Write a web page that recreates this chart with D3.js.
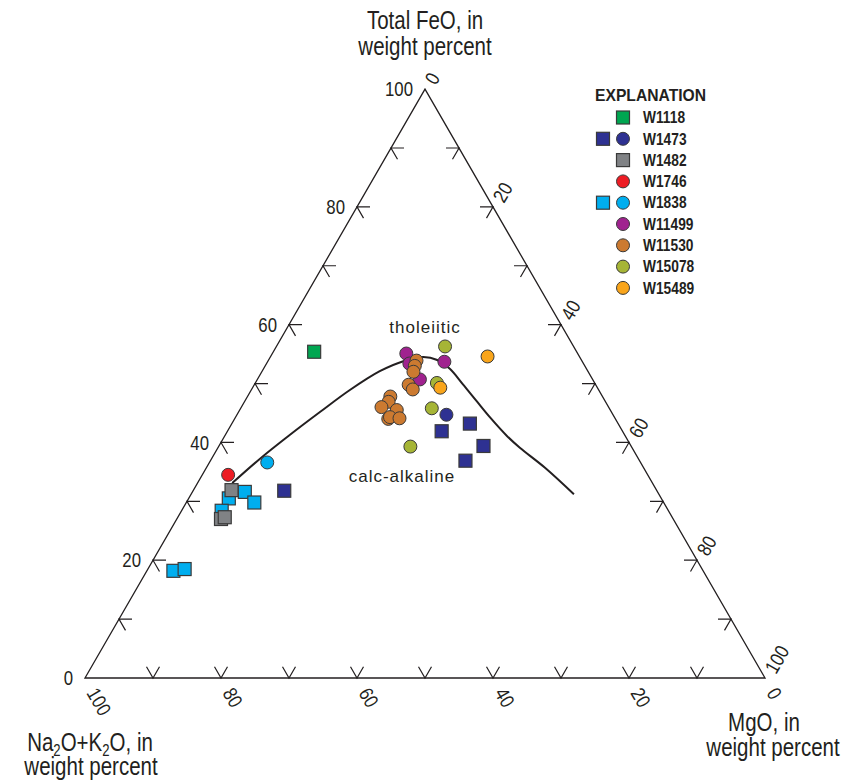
<!DOCTYPE html>
<html>
<head>
<meta charset="utf-8">
<script src="https://cdn.jsdelivr.net/npm/d3@7"></script>
<style>
  html, body { margin: 0; padding: 0; background: #fff; }
  svg { display: block; }
  text { font-family: "Liberation Sans", Arial, Helvetica, sans-serif; fill: #231f20; }
</style>
</head>
<body>
<svg id="chart" width="843" height="782"></svg>
<script>
// ---- Data: AFM ternary, values as [FeO, MgO] in weight percent (Na2O+K2O = 100 - FeO - MgO)
const sampleNames = ["W1118", "W1473", "W1482", "W1746", "W1838", "W11499", "W11530", "W15078", "W15489"];
const sampleColors = ["#00a651", "#2e3192", "#808285", "#ed1c24", "#00aeef", "#a0228f", "#cc7a30", "#a6b536", "#f9a51b"];
const legendSquares = [true, true, true, false, true, false, false, false, false];
const legendCircles = [false, true, false, true, true, true, true, true, true];

const w1118Squares = [[55.4, 6.0]];
const w1473Squares = [[31.8, 13.4], [41.9, 31.5], [43.2, 35.0], [39.4, 38.9], [36.9, 37.5]];
const w1473Circles = [[44.7, 30.8]];
const w1482Squares = [[31.9, 5.6], [27.0, 6.5], [27.3, 6.9]];
const w1746Circles = [[34.5, 3.8]];
const w1838Squares = [[30.5, 5.9], [31.6, 7.7], [29.8, 10.0], [28.4, 5.9], [18.2, 3.9], [18.5, 5.4]];
const w1838Circles = [[36.6, 8.5]];
const w11499Circles = [[55.1, 19.7], [53.4, 21.0], [50.7, 23.9], [53.7, 26.0]];
const w11530Circles = [[53.9, 21.8], [53.0, 22.0], [52.0, 22.3], [49.8, 22.7], [49.0, 23.7], [47.8, 21.0],
                       [46.9, 21.2], [46.0, 20.6], [45.5, 23.1], [44.0, 22.6], [44.3, 22.7], [44.1, 24.2]];
const w15078Circles = [[56.3, 24.8], [50.1, 26.7], [45.8, 28.1], [39.3, 28.2]];
const w15489Circles = [[54.6, 31.9], [49.3, 27.6]];

// Tholeiitic / calc-alkaline dividing line
const boundaryLine = [[33.1, 5.1], [37.2, 7.1], [41.3, 9.5], [45.2, 12.0], [48.9, 14.5], [52.1, 17.3],
                      [53.8, 19.9], [54.5, 22.5], [54.0, 24.8], [52.5, 27.4], [49.9, 30.6], [47.0, 34.1],
                      [44.2, 37.5], [41.1, 41.5], [39.1, 44.4], [35.7, 49.8], [31.2, 56.3]];

const feoTicks = [0, 20, 40, 60, 80, 100];
const mgoTicks = [0, 20, 40, 60, 80, 100];
const alkTicks = [100, 80, 60, 40, 20, 0];
const minorSteps = d3.range(10, 100, 10);

// ---- Geometry
const svg = d3.select("#chart");
const side = 680;
const xs = d3.scaleLinear().domain([0, 100]).range([85, 85 + side]);
const ys = d3.scaleLinear().domain([0, 100]).range([678, 678 - side * Math.sqrt(3) / 2]);
const proj = (feo, mgo) => [xs(mgo + feo / 2), ys(feo)];

const ink = "#231f20";
const S3 = Math.sqrt(3) / 2;
const L = 13;

// Condensed text: regular sans face squeezed horizontally
function ctext(parent, x, y, str, size, opts = {}) {
  const rot = opts.rotate || 0, sx = opts.sx || 0.82;
  return parent.append("text")
    .attr("transform", `translate(${x},${y}) rotate(${rot}) scale(${sx},1)`)
    .attr("font-size", size)
    .attr("font-weight", opts.weight || "normal")
    .attr("text-anchor", opts.anchor || "start")
    .attr("dy", opts.dy || null)
    .text(str);
}

// Triangle frame
const corners = [proj(0, 0), proj(100, 0), proj(0, 100)];
svg.append("path")
  .attr("d", "M" + corners.map(p => p.join(",")).join("L") + "Z")
  .attr("fill", "none").attr("stroke", ink).attr("stroke-width", 1.3);

// Arrow-shaped ticks along each side
const tickPath = (p, a, b) => `M${p[0] + a[0]},${p[1] + a[1]}L${p[0]},${p[1]}L${p[0] + b[0]},${p[1] + b[1]}`;
const ticks = svg.append("g").attr("fill", "none").attr("stroke", ink).attr("stroke-width", 1.2);
minorSteps.forEach(v => {
  ticks.append("path").attr("d", tickPath(proj(v, 0), [L, 0], [L * 0.5, L * S3]));
  ticks.append("path").attr("d", tickPath(proj(100 - v, v), [-L, 0], [-L * 0.5, L * S3]));
  ticks.append("path").attr("d", tickPath(proj(0, 100 - v), [-L * 0.5, -L * S3], [L * 0.5, -L * S3]));
});

// Tick labels
const tl = svg.append("g");
feoTicks.forEach(v => {
  const p = proj(v, 0);
  ctext(tl, p[0] - 12, p[1], v, 20, { anchor: "end", dy: "0.36em", sx: 0.84 });
});
mgoTicks.forEach(v => {
  const p = proj(100 - v, v);
  ctext(tl, p[0] + 11, p[1] - 3, v, 20, { rotate: -60, sx: 0.84 });
});
alkTicks.forEach(v => {
  const p = proj(0, 100 - v);
  ctext(tl, p[0] + 1, p[1] + 15, v, 20, { rotate: 60, sx: 0.84 });
});

// Axis titles
const titles = svg.append("g");
ctext(titles, 425, 29, "Total FeO, in", 25, { anchor: "middle" });
ctext(titles, 425, 55, "weight percent", 25, { anchor: "middle" });
const na = ctext(titles, 90, 751, "", 25, { anchor: "middle" });
na.append("tspan").text("Na");
na.append("tspan").attr("font-size", 16).attr("dy", 5).text("2");
na.append("tspan").attr("dy", -5).text("O+K");
na.append("tspan").attr("font-size", 16).attr("dy", 5).text("2");
na.append("tspan").attr("dy", -5).text("O, in");
ctext(titles, 91, 775, "weight percent", 25, { anchor: "middle" });
ctext(titles, 764, 731, "MgO, in", 25, { anchor: "middle" });
ctext(titles, 773, 756, "weight percent", 25, { anchor: "middle" });

// Field labels
const fl = svg.append("g").attr("font-size", 17).attr("letter-spacing", 1).attr("text-anchor", "middle");
fl.append("text").attr("x", 425).attr("y", 333).text("tholeiitic");
fl.append("text").attr("x", 402).attr("y", 482).text("calc-alkaline");

// Boundary curve
const line = d3.line().x(d => proj(d[0], d[1])[0]).y(d => proj(d[0], d[1])[1]).curve(d3.curveCatmullRom.alpha(0.5));
svg.append("path").datum(boundaryLine).attr("d", line)
  .attr("fill", "none").attr("stroke", ink).attr("stroke-width", 2);

// Symbols
const R = 6.5, SQ = 13;
function drawSquares(data, color) {
  svg.append("g").selectAll("rect").data(data).join("rect")
    .attr("x", d => proj(d[0], d[1])[0] - SQ / 2).attr("y", d => proj(d[0], d[1])[1] - SQ / 2)
    .attr("width", SQ).attr("height", SQ)
    .attr("fill", color).attr("stroke", "#3a3a3a").attr("stroke-width", 1.2);
}
function drawCircles(data, color) {
  svg.append("g").selectAll("circle").data(data).join("circle")
    .attr("cx", d => proj(d[0], d[1])[0]).attr("cy", d => proj(d[0], d[1])[1]).attr("r", R)
    .attr("fill", color).attr("stroke", "#3a3a3a").attr("stroke-width", 1);
}
drawSquares(w1838Squares, sampleColors[4]);
drawSquares(w1482Squares, sampleColors[2]);
drawCircles(w1746Circles, sampleColors[3]);
drawCircles(w1838Circles, sampleColors[4]);
drawSquares(w1118Squares, sampleColors[0]);
drawSquares(w1473Squares, sampleColors[1]);
drawCircles(w1473Circles, sampleColors[1]);
drawCircles(w11499Circles, sampleColors[5]);
drawCircles(w11530Circles, sampleColors[6]);
drawCircles(w15078Circles, sampleColors[7]);
drawCircles(w15489Circles, sampleColors[8]);

// Explanation
const lg = svg.append("g");
ctext(lg, 595, 101, "EXPLANATION", 16.5, { weight: "bold", sx: 0.95 });
const rowY = d3.scaleLinear().domain([0, 1]).range([117.5, 138.8]);
sampleNames.forEach((name, i) => {
  const y = rowY(i);
  const sqX = legendCircles[i] ? 603 : 623;
  if (legendSquares[i]) {
    lg.append("rect").attr("x", sqX - SQ / 2).attr("y", y - SQ / 2).attr("width", SQ).attr("height", SQ)
      .attr("fill", sampleColors[i]).attr("stroke", "#3a3a3a").attr("stroke-width", 1.2);
  }
  if (legendCircles[i]) {
    lg.append("circle").attr("cx", 623).attr("cy", y).attr("r", R)
      .attr("fill", sampleColors[i]).attr("stroke", "#3a3a3a").attr("stroke-width", 1);
  }
  ctext(lg, 643, y, name, 16, { weight: "bold", sx: 0.86, dy: "0.36em" });
});
</script>
</body>
</html>
